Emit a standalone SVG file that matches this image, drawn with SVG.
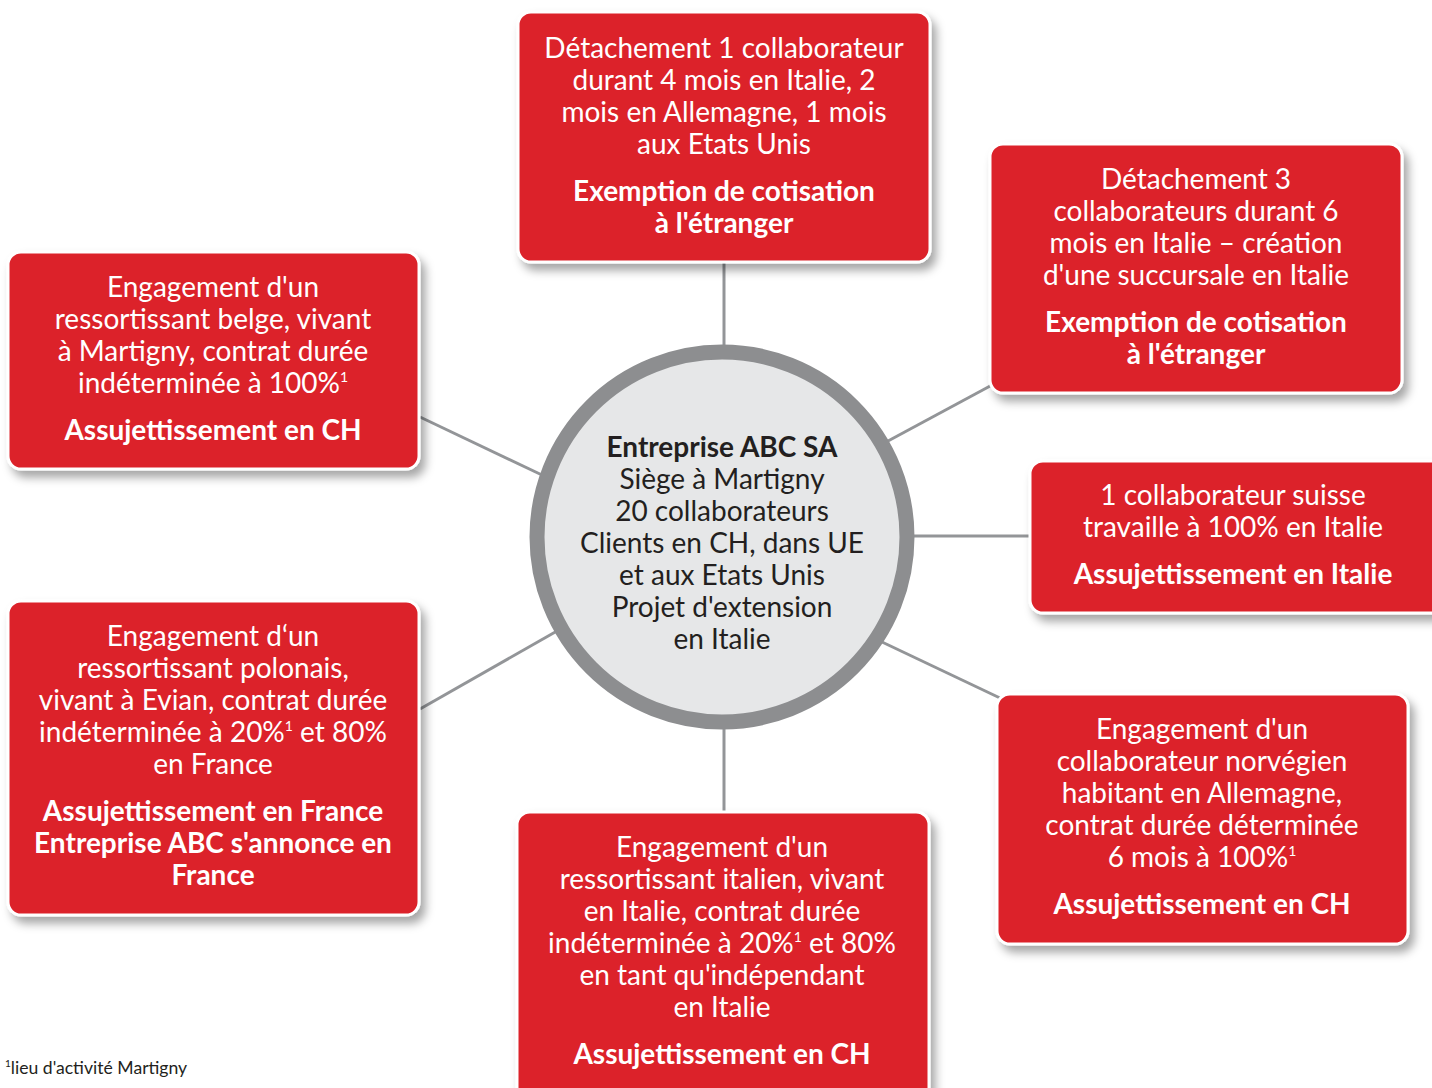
<svg xmlns="http://www.w3.org/2000/svg" width="1432" height="1088" viewBox="0 0 1432 1088">
<defs>
<filter id="sh" x="-10%" y="-10%" width="130%" height="130%">
<feDropShadow dx="5" dy="7" stdDeviation="5" flood-color="#000" flood-opacity="0.35"/>
</filter>
<style>
.box{fill:#dc2129;stroke:#fff;stroke-width:3;filter:url(#sh)}
.t{font-family:Lato,"Liberation Sans",sans-serif;font-size:28px;fill:#fff;text-anchor:middle}
.b{font-weight:bold}
.c{fill:#231f20}
.ln{stroke:#939598;stroke-width:3;fill:none}
.sup{font-size:14px}
</style>
</defs>
<rect width="1432" height="1088" fill="#fff"/>
<g id="connectors">
<line class="ln" x1="724" y1="262" x2="724" y2="350"/>
<line class="ln" x1="888" y1="441" x2="992" y2="385"/>
<line class="ln" x1="542" y1="475" x2="420" y2="417"/>
<line class="ln" x1="912" y1="536" x2="1030" y2="536"/>
<line class="ln" x1="557" y1="631" x2="420" y2="709"/>
<line class="ln" x1="882" y1="642" x2="1000" y2="698"/>
<line class="ln" x1="724" y1="725" x2="724" y2="812"/>
</g>
<g id="center">
<circle cx="722" cy="537" r="185" fill="#e6e7e8" stroke="#8d8e90" stroke-width="15"/>
<text class="t c"><tspan class="b" x="722" y="457">Entreprise ABC SA</tspan><tspan x="722" y="489">Siège à Martigny</tspan><tspan x="722" y="521">20 collaborateurs</tspan><tspan x="722" y="553">Clients en CH, dans UE</tspan><tspan x="722" y="585">et aux Etats Unis</tspan><tspan x="722" y="617">Projet d'extension</tspan><tspan x="722" y="649">en Italie</tspan></text>
</g>
<g id="n1">
<rect class="box" x="518" y="12" width="412" height="250" rx="13"/>
<text class="t"><tspan x="724" y="58">Détachement 1 collaborateur</tspan><tspan x="724" y="90">durant 4 mois en Italie, 2</tspan><tspan x="724" y="122">mois en Allemagne, 1 mois</tspan><tspan x="724" y="154">aux Etats Unis</tspan><tspan class="b" x="724" y="201">Exemption de cotisation</tspan><tspan class="b" x="724" y="233">à l'étranger</tspan></text>
</g>
<g id="n2">
<rect class="box" x="990" y="144" width="412" height="249" rx="13"/>
<text class="t"><tspan x="1196" y="189">Détachement 3</tspan><tspan x="1196" y="221">collaborateurs durant 6</tspan><tspan x="1196" y="253">mois en Italie – création</tspan><tspan x="1196" y="285">d'une succursale en Italie</tspan><tspan class="b" x="1196" y="332">Exemption de cotisation</tspan><tspan class="b" x="1196" y="364">à l'étranger</tspan></text>
</g>
<g id="n3">
<rect class="box" x="8" y="252" width="411" height="217" rx="13"/>
<text class="t"><tspan x="213" y="297">Engagement d'un</tspan><tspan x="213" y="329">ressortissant belge, vivant</tspan><tspan x="213" y="361">à Martigny, contrat durée</tspan><tspan x="213" y="393">indéterminée à 100%<tspan class="sup" dy="-11">1</tspan></tspan><tspan class="b" x="213" y="440">Assujettissement en CH</tspan></text>
</g>
<g id="n4">
<rect class="box" x="1030" y="461" width="420" height="152" rx="13"/>
<text class="t"><tspan x="1233" y="505">1 collaborateur suisse</tspan><tspan x="1233" y="537">travaille à 100% en Italie</tspan><tspan class="b" x="1233" y="584">Assujettissement en Italie</tspan></text>
</g>
<g id="n5">
<rect class="box" x="8" y="601" width="411" height="314" rx="13"/>
<text class="t"><tspan x="213" y="646">Engagement d‘un</tspan><tspan x="213" y="678">ressortissant polonais,</tspan><tspan x="213" y="710">vivant à Evian, contrat durée</tspan><tspan x="213" y="742">indéterminée à 20%<tspan class="sup" dy="-11">1</tspan><tspan dy="11"> et 80%</tspan></tspan><tspan x="213" y="774">en France</tspan><tspan class="b" x="213" y="821">Assujettissement en France</tspan><tspan class="b" x="213" y="853">Entreprise ABC s'annonce en</tspan><tspan class="b" x="213" y="885">France</tspan></text>
</g>
<g id="n6">
<rect class="box" x="997" y="694" width="411" height="250" rx="13"/>
<text class="t"><tspan x="1202" y="739">Engagement d'un</tspan><tspan x="1202" y="771">collaborateur norvégien</tspan><tspan x="1202" y="803">habitant en Allemagne,</tspan><tspan x="1202" y="835">contrat durée déterminée</tspan><tspan x="1202" y="867">6 mois à 100%<tspan class="sup" dy="-11">1</tspan></tspan><tspan class="b" x="1202" y="914">Assujettissement en CH</tspan></text>
</g>
<g id="n7">
<rect class="box" x="517" y="812" width="412" height="290" rx="13"/>
<text class="t"><tspan x="722" y="857">Engagement d'un</tspan><tspan x="722" y="889">ressortissant italien, vivant</tspan><tspan x="722" y="921">en Italie, contrat durée</tspan><tspan x="722" y="953">indéterminée à 20%<tspan class="sup" dy="-11">1</tspan><tspan dy="11"> et 80%</tspan></tspan><tspan x="722" y="985">en tant qu'indépendant</tspan><tspan x="722" y="1017">en Italie</tspan><tspan class="b" x="722" y="1064">Assujettissement en CH</tspan></text>
</g>
<g id="footnote">
<text x="5" y="1074" font-family="Lato,'Liberation Sans',sans-serif" font-size="17.6" fill="#231f20"><tspan font-size="10" dy="-7">1</tspan><tspan dy="7">lieu d'activité Martigny</tspan></text>
</g>
</svg>
